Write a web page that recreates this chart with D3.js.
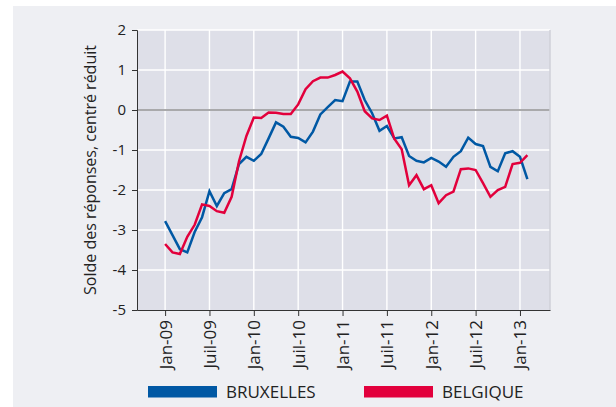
<!DOCTYPE html>
<html>
<head>
<meta charset="utf-8">
<script src="https://cdn.jsdelivr.net/npm/d3@7"></script>
<style>
  body { margin: 0; background: #fff; }
  svg { display: block; font-family: "Open Sans", sans-serif; }
</style>
</head>
<body>
<div id="chart"></div>
<script>
// months from Jan-09 (index 0) to Feb-13 (index 49)
const bruxelles = [
  -2.78, -3.13, -3.48, -3.56, -3.05, -2.68, -2.03, -2.4, -2.08, -1.98, -1.35, -1.17,
  -1.27, -1.1, -0.71, -0.31, -0.42, -0.67, -0.7, -0.81, -0.54, -0.11, 0.07, 0.25,
  0.22, 0.71, 0.71, 0.25, -0.08, -0.52, -0.4, -0.71, -0.68, -1.15, -1.27, -1.31,
  -1.2, -1.29, -1.42, -1.17, -1.03, -0.69, -0.85, -0.9, -1.42, -1.53, -1.08, -1.03,
  -1.17, -1.73
];
const belgique = [
  -3.35, -3.56, -3.6, -3.17, -2.87, -2.36, -2.4, -2.53, -2.57, -2.17, -1.28, -0.65,
  -0.19, -0.2, -0.06, -0.07, -0.1, -0.1, 0.14, 0.52, 0.72, 0.81, 0.81, 0.875,
  0.96, 0.79, 0.46, -0.03, -0.21, -0.25, -0.14, -0.72, -0.98, -1.88, -1.63, -1.98,
  -1.88, -2.33, -2.13, -2.04, -1.48, -1.46, -1.5, -1.83, -2.17, -2.0, -1.92, -1.35,
  -1.32, -1.13
];
const tickMonths = [0, 6, 12, 18, 24, 30, 36, 42, 48];
const tickLabels = ["Jan-09", "Juil-09", "Jan-10", "Juil-10", "Jan-11", "Juil-11", "Jan-12", "Juil-12", "Jan-13"];
const yTicks = [2, 1, 0, -1, -2, -3, -4, -5];
const seriesNames = ["BRUXELLES", "BELGIQUE"];
const colors = ["#0058a4", "#e2003c"];

const width = 616, height = 407;
const plot = {left: 137, right: 550, top: 30, bottom: 310};

const svg = d3.select("#chart").append("svg")
  .attr("width", width)
  .attr("height", height);

// light panel behind everything
svg.append("rect")
  .attr("x", 13).attr("y", 6)
  .attr("width", width - 13).attr("height", height - 6)
  .attr("fill", "#eeeff3");

const x = d3.scaleLinear().domain([-3.8, 52.06]).range([plot.left, plot.right]);
const y = d3.scaleLinear().domain([-5, 2]).range([plot.bottom, plot.top]);

svg.append("rect")
  .attr("x", plot.left).attr("y", plot.top)
  .attr("width", plot.right - plot.left).attr("height", plot.bottom - plot.top)
  .attr("fill", "#dedfe8");

// grid
svg.append("g")
  .selectAll("line")
  .data(yTicks.filter(d => d > -5))
  .join("line")
  .attr("x1", plot.left).attr("x2", plot.right)
  .attr("y1", d => y(d)).attr("y2", d => y(d))
  .attr("stroke", "#fff").attr("stroke-width", 1.4);

svg.append("g")
  .selectAll("line")
  .data(tickMonths)
  .join("line")
  .attr("x1", d => x(d)).attr("x2", d => x(d))
  .attr("y1", plot.top).attr("y2", plot.bottom)
  .attr("stroke", "#fff").attr("stroke-width", 1.4);

// zero line
svg.append("line")
  .attr("x1", plot.left).attr("x2", plot.right)
  .attr("y1", y(0)).attr("y2", y(0))
  .attr("stroke", "#a9a9ab").attr("stroke-width", 2);

// right border of plot
svg.append("line")
  .attr("x1", plot.right).attr("x2", plot.right)
  .attr("y1", plot.top).attr("y2", plot.bottom)
  .attr("stroke", "#cfd1d9").attr("stroke-width", 1.5);

// axes
const yAxis = d3.axisLeft(y).tickValues(yTicks).tickSize(5).tickPadding(6).tickFormat(d => String(d));
const gy = svg.append("g")
  .attr("transform", `translate(${plot.left},0)`)
  .call(yAxis);
gy.select(".domain").attr("stroke", "#333");
gy.selectAll(".tick line").attr("stroke", "#333");
gy.selectAll("text").attr("font-size", 15).attr("fill", "#222").style("font-family", "Open Sans");

const xAxis = d3.axisBottom(x).tickValues(tickMonths).tickSize(6).tickSizeOuter(0)
  .tickFormat((d, i) => tickLabels[i]);
const gx = svg.append("g")
  .attr("transform", `translate(0,${plot.bottom})`)
  .call(xAxis);
gx.select(".domain").attr("stroke", "#333");
gx.selectAll(".tick line").attr("stroke", "#333");
gx.selectAll("text")
  .attr("font-size", 17).attr("fill", "#222").style("font-family", "Open Sans")
  .attr("text-anchor", "end")
  .attr("transform", "rotate(-90)")
  .attr("x", -10).attr("y", 0).attr("dy", "0.35em");

// y title
svg.append("text")
  .attr("transform", `translate(96,170) rotate(-90)`)
  .attr("text-anchor", "middle")
  .attr("font-size", 16)
  .attr("fill", "#222")
  .text("Solde des réponses, centré réduit");

// lines
const line = d3.line().x((d, i) => x(i)).y(d => y(d));
[bruxelles, belgique].forEach((s, k) => {
  svg.append("path")
    .datum(s)
    .attr("fill", "none")
    .attr("stroke", colors[k])
    .attr("stroke-width", 2.5)
    .attr("stroke-linejoin", "miter")
    .attr("d", line);
});

// legend
const legendX = [148, 364];
const lg = svg.append("g");
seriesNames.forEach((name, k) => {
  lg.append("rect")
    .attr("x", legendX[k]).attr("y", 386)
    .attr("width", 69).attr("height", 11.5)
    .attr("fill", colors[k]);
  lg.append("text")
    .attr("x", legendX[k] + 78).attr("y", 397.5)
    .attr("font-size", 17)
    .attr("fill", "#222")
    .text(name);
});
</script>
</body>
</html>
